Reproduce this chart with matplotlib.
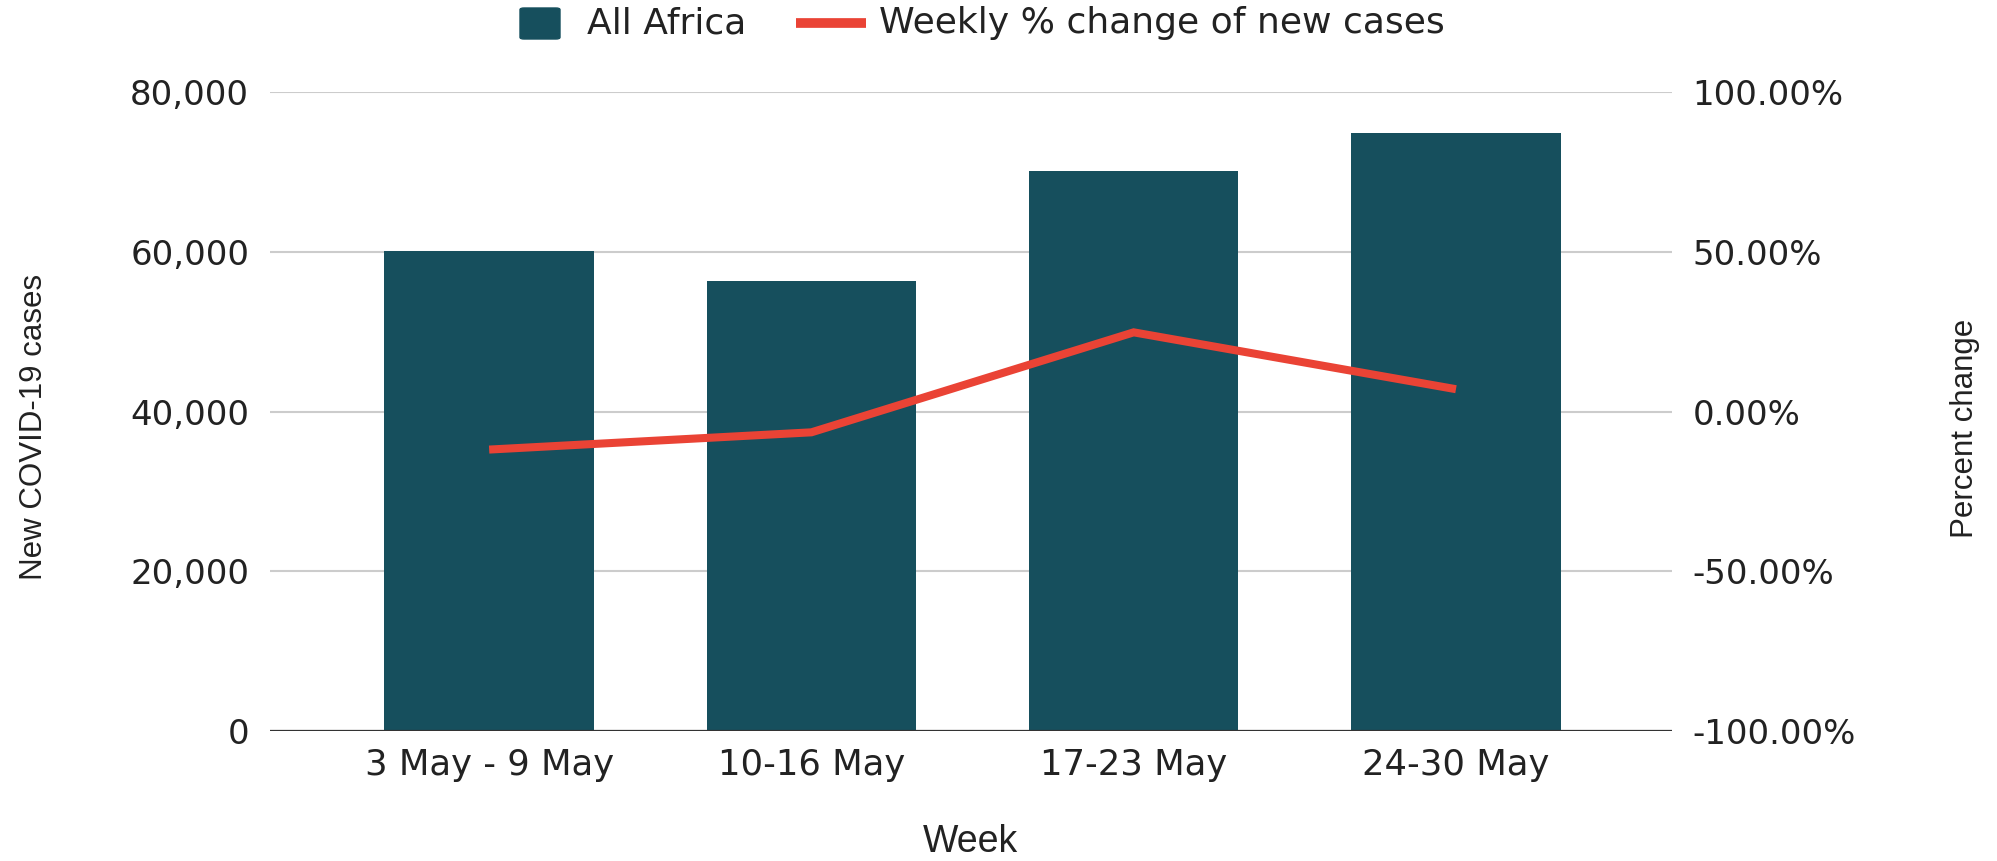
import matplotlib

matplotlib.use("Agg")
import matplotlib.pyplot as plt
from matplotlib.lines import Line2D
from matplotlib.patches import FancyBboxPatch
from matplotlib.ticker import FuncFormatter

WEEKS = ["3 May - 9 May", "10-16 May", "17-23 May", "24-30 May"]
NEW_CASES = [60100, 56300, 70100, 74900]
PCT_CHANGE = [-11.9, -6.5, 24.8, 7.0]
CASE_TICKS = [0, 20000, 40000, 60000, 80000]
PCT_TICKS = [-100, -50, 0, 50, 100]
SERIES_NAMES = ["All Africa", "Weekly % change of new cases"]

BAR_COLOR = "#164f5d"
LINE_COLOR = "#ea4335"
GRID_COLOR = "#cccccc"
TEXT_COLOR = "#222222"
LABEL_FONT = ["Liberation Sans", "DejaVu Sans"]
W, H = 1997, 861

plt.rcParams["font.family"] = ["DejaVu Sans"]


def px(x: float, y: float) -> tuple[float, float]:
    # pixel position from top-left -> figure fraction
    return x / W, 1 - y / H


def draw_legend(fig) -> None:
    x0, y0 = px(520, 39)
    x1, y1 = px(560, 8)
    fig.add_artist(FancyBboxPatch((x0, y0), x1 - x0, y1 - y0,
                                  boxstyle="round,pad=0,rounding_size=0.002",
                                  transform=fig.transFigure, color=BAR_COLOR))
    fig.text(*px(587, 23), SERIES_NAMES[0], ha="left", va="center",
             fontsize=26, color=TEXT_COLOR)
    lx0, ly = px(796, 23)
    lx1, _ = px(866, 23)
    fig.add_artist(Line2D([lx0, lx1], [ly, ly], transform=fig.transFigure,
                          color=LINE_COLOR, lw=7, solid_capstyle="butt"))
    fig.text(*px(879, 23), SERIES_NAMES[1], ha="left", va="center",
             fontsize=26, color=TEXT_COLOR)


def main() -> None:
    fig = plt.figure(figsize=(W / 100, H / 100), dpi=100)
    ax = fig.add_axes((0.1352, 0.151, 0.702, 0.742))
    ax2 = ax.twinx()

    x = list(range(len(WEEKS)))
    ax.bar(x, NEW_CASES, width=0.65, color=BAR_COLOR, zorder=2)
    ax2.plot(x, PCT_CHANGE, color=LINE_COLOR, lw=5.8, solid_joinstyle="miter",
             solid_capstyle="butt", zorder=3)

    ax.set_xlim(-0.68, 3.67)
    ax.set_ylim(0, 80000)
    ax2.set_ylim(-100, 100)
    ax.set_yticks(CASE_TICKS)
    ax2.set_yticks(PCT_TICKS)
    ax.yaxis.set_major_formatter(FuncFormatter(lambda v, _: f"{int(v):,}"))
    ax2.yaxis.set_major_formatter(FuncFormatter(lambda v, _: f"{v:.2f}%"))
    ax.set_xticks(x)
    ax.set_xticklabels(WEEKS)

    ax.grid(axis="y", color=GRID_COLOR, lw=1.5, zorder=0)
    ax.set_axisbelow(True)
    ax.axhline(0, color="#333333", lw=1.6, zorder=4)
    for a in (ax, ax2):
        for s in a.spines.values():
            s.set_visible(False)
        a.tick_params(length=0, labelsize=24.5, colors=TEXT_COLOR)
    ax.tick_params(axis="x", labelsize=25.5, pad=12)
    ax.tick_params(axis="y", pad=15)
    ax2.tick_params(axis="y", pad=15)

    fig.text(0.486, 0.022, "Week", ha="center", va="center", fontsize=27,
             family=LABEL_FONT, color=TEXT_COLOR)
    fig.text(0.017, 0.504, "New COVID-19 cases", ha="center", va="center",
             rotation=90, fontsize=22.5, family=LABEL_FONT, color=TEXT_COLOR)
    fig.text(0.984, 0.502, "Percent change", ha="center", va="center",
             rotation=90, fontsize=22.5, family=LABEL_FONT, color=TEXT_COLOR)

    draw_legend(fig)

    fig.savefig("out.png", dpi=100)


if __name__ == "__main__":
    main()
